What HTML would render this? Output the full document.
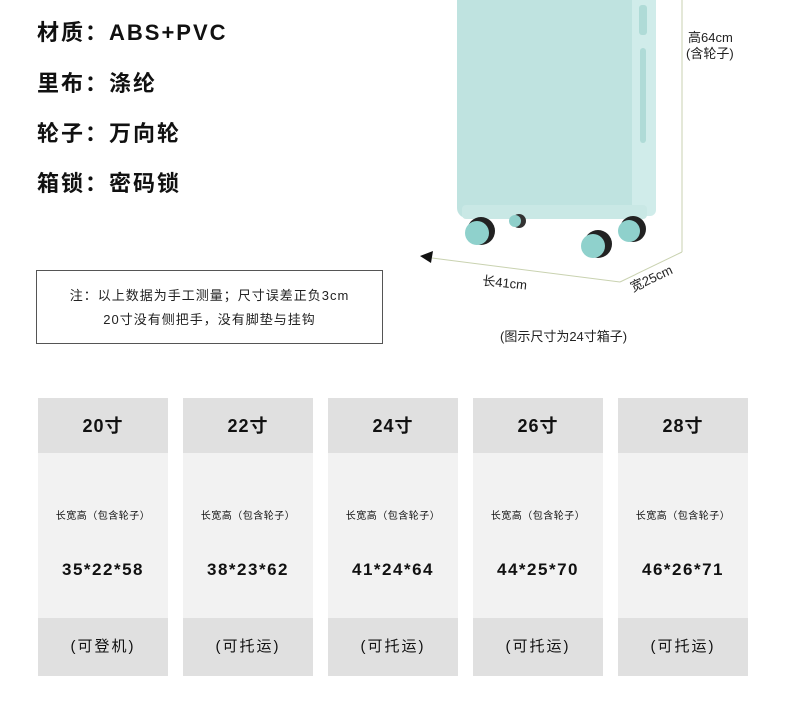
<!DOCTYPE html>
<html><head><meta charset="utf-8"><style>
body{margin:0;width:790px;height:715px;background:#fff;position:relative;overflow:hidden;font-family:"Liberation Sans","Noto Sans CJK SC",sans-serif;color:#111}
.t{position:absolute;left:37px;font-size:22px;font-weight:bold;letter-spacing:2px;line-height:26px}
.note{position:absolute;left:36px;top:270px;width:347px;height:74px;border:1px solid #555;font-size:13px;text-align:center;line-height:24px;box-sizing:border-box;padding-top:13px;letter-spacing:1px;color:#222}
.col{position:absolute;top:398px;width:130px}
.h{height:55px;background:#e0e0e0;font-size:18px;font-weight:bold;text-align:center;line-height:57px;letter-spacing:1px}
.b{height:165px;background:#f2f2f2;text-align:center;position:relative}
.b .s{position:absolute;top:54px;width:100%;font-size:10px;letter-spacing:0.5px}
.b .n{position:absolute;top:107px;width:100%;font-size:17px;font-weight:bold;letter-spacing:1.5px}
.f{height:58px;background:#e0e0e0;text-align:center;line-height:58px;font-size:15px;letter-spacing:2px}
</style></head><body>
<div class="t" style="top:20px">材质：ABS+PVC</div>
<div class="t" style="top:71px">里布：涤纶</div>
<div class="t" style="top:121px">轮子：万向轮</div>
<div class="t" style="top:171px">箱锁：密码锁</div>
<div class="note">注：以上数据为手工测量；尺寸误差正负3cm<br>20寸没有侧把手，没有脚垫与挂钩</div>
<svg style="position:absolute;left:0;top:0" width="790" height="360">
<line x1="682" y1="0" x2="682" y2="252" stroke="#c9d2b0" stroke-width="1"/>
<line x1="432" y1="258" x2="620" y2="282" stroke="#c9d2b0"/>
<line x1="620" y1="282" x2="682" y2="252" stroke="#c9d2b0"/>
<polygon points="420,256 433,251 431,263" fill="#111"/>
<rect x="457" y="-10" width="185" height="228" rx="10" fill="#bfe3e0"/>
<rect x="632" y="-10" width="24" height="226" rx="6" fill="#d0ecea"/>
<rect x="640" y="48" width="6" height="95" rx="3" fill="#afdbd7"/>
<rect x="639" y="5" width="8" height="30" rx="3" fill="#afdbd7"/>
<rect x="462" y="205" width="185" height="14" rx="4" fill="#c9e8e5"/>
<circle cx="519" cy="221" r="7" fill="#333"/><circle cx="515" cy="221" r="6" fill="#8fcfca"/>
<circle cx="481" cy="231" r="14" fill="#222"/><circle cx="477" cy="233" r="12" fill="#8fd1cc"/>
<circle cx="633" cy="229" r="13" fill="#222"/><circle cx="629" cy="231" r="11" fill="#8fd1cc"/>
<circle cx="598" cy="244" r="14" fill="#222"/><circle cx="593" cy="246" r="12" fill="#8fd1cc"/>
<text x="688" y="42" font-size="13" fill="#222" font-family="Liberation Sans,Noto Sans CJK SC,sans-serif">高64cm</text>
<text x="686" y="58" font-size="13" fill="#222" font-family="Liberation Sans,Noto Sans CJK SC,sans-serif">(含轮子)</text>
<text x="482" y="285" font-size="13" fill="#222" transform="rotate(6 482 285)" font-family="Liberation Sans,Noto Sans CJK SC,sans-serif">长41cm</text>
<text x="633" y="292" font-size="13" fill="#222" transform="rotate(-25 633 292)" font-family="Liberation Sans,Noto Sans CJK SC,sans-serif">宽25cm</text>
<text x="500" y="341" font-size="13" fill="#222" font-family="Liberation Sans,Noto Sans CJK SC,sans-serif">(图示尺寸为24寸箱子)</text>
</svg>
<div class="col" style="left:38px"><div class="h">20寸</div><div class="b"><div class="s">长宽高（包含轮子）</div><div class="n">35*22*58</div></div><div class="f">(可登机)</div></div>
<div class="col" style="left:183px"><div class="h">22寸</div><div class="b"><div class="s">长宽高（包含轮子）</div><div class="n">38*23*62</div></div><div class="f">(可托运)</div></div>
<div class="col" style="left:328px"><div class="h">24寸</div><div class="b"><div class="s">长宽高（包含轮子）</div><div class="n">41*24*64</div></div><div class="f">(可托运)</div></div>
<div class="col" style="left:473px"><div class="h">26寸</div><div class="b"><div class="s">长宽高（包含轮子）</div><div class="n">44*25*70</div></div><div class="f">(可托运)</div></div>
<div class="col" style="left:618px"><div class="h">28寸</div><div class="b"><div class="s">长宽高（包含轮子）</div><div class="n">46*26*71</div></div><div class="f">(可托运)</div></div>
</body></html>
